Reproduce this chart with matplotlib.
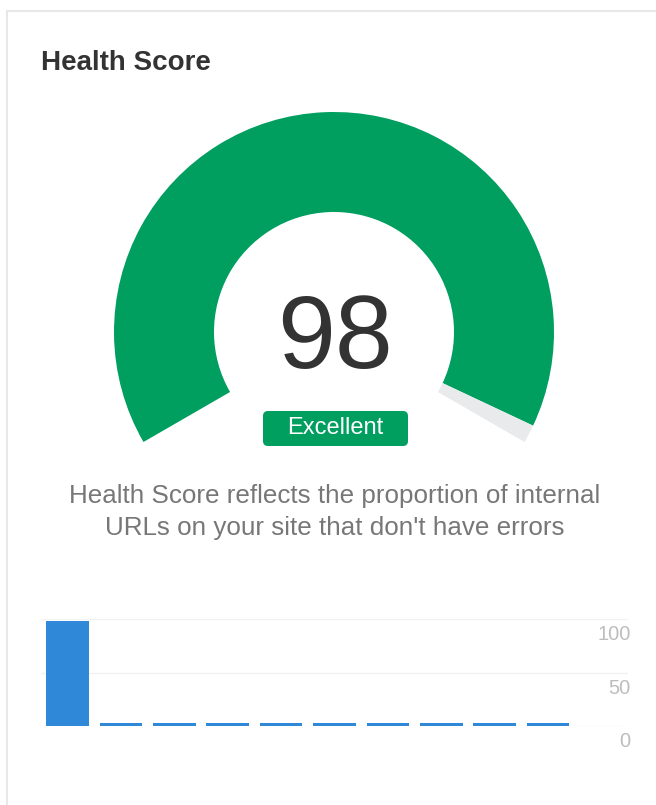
import matplotlib.pyplot as plt
from matplotlib.patches import Wedge, FancyBboxPatch
import numpy as np

plt.rcParams['font.family'] = ['Liberation Sans', 'DejaVu Sans']

# gauge data
score = 98
score_max = 100
rating = "Excellent"
title = "Health Score"
desc = "Health Score reflects the proportion of internal\nURLs on your site that don't have errors"

# history bars
history = [98, 3, 3, 3, 3, 3, 3, 3, 3, 3]
y_ticks = [0, 50, 100]

green = '#009e5f'
grey = '#e9eaec'
blue = '#3088d8'

W, H = 656, 805
fig = plt.figure(figsize=(W/100, H/100), dpi=100)

# full-figure canvas in pixel units (y measured up from bottom)
bg = fig.add_axes([0, 0, 1, 1])
bg.set_xlim(0, W)
bg.set_ylim(0, H)
bg.set_aspect('equal')
bg.axis('off')

# card border
bg.plot([7, 7], [0, H - 11], color='#e8e8e8', lw=1.5)
bg.plot([7, W], [H - 11, H - 11], color='#e8e8e8', lw=1.5)

bg.text(41, H - 63, title, fontsize=20, fontweight='bold', color='#333333',
        ha='left', va='center')

# gauge: 240 degree sweep from 210 deg to -30 deg
cx, cy = 334, H - 332
r_out, r_in = 220, 120
start, sweep = 210, 240
split = start - sweep * score / score_max
bg.add_patch(Wedge((cx, cy), r_out, split, start, width=r_out - r_in,
                   facecolor=green, edgecolor='none'))
bg.add_patch(Wedge((cx, cy), r_out, start - sweep, split, width=r_out - r_in,
                   facecolor=grey, edgecolor='none'))

bg.text(335, H - 368, str(score), fontsize=75, color='#333333',
        ha='center', va='baseline')

badge = FancyBboxPatch((263, H - 446), 145, 35,
                       boxstyle='round,pad=0,rounding_size=5',
                       facecolor=green, edgecolor='none')
bg.add_patch(badge)
bg.text(335, H - 428, rating, fontsize=17, color='white', ha='center', va='center')

bg.text(335, H - 512, desc, fontsize=18.7, color='#777777', ha='center',
        va='center', linespacing=1.4)

# history bar chart
ax = fig.add_axes([41/W, (H - 726)/H, 587/W, 107/H])
x = np.arange(len(history))
ax.bar(x, history, width=0.8, color=blue, zorder=2)
ax.set_xlim(-0.5, len(history) + 0.5)
ax.set_ylim(0, 100)
for t in y_ticks:
    ax.axhline(t, color='#f1f1f1', lw=1, zorder=1)
    ax.annotate(str(t), xy=(1, t), xycoords=('axes fraction', 'data'),
                xytext=(2, -4.5), textcoords='offset points', ha='right', va='top',
                fontsize=14.5, color='#bdbdbd', annotation_clip=False)
ax.axis('off')

fig.savefig('out.png', dpi=100)
